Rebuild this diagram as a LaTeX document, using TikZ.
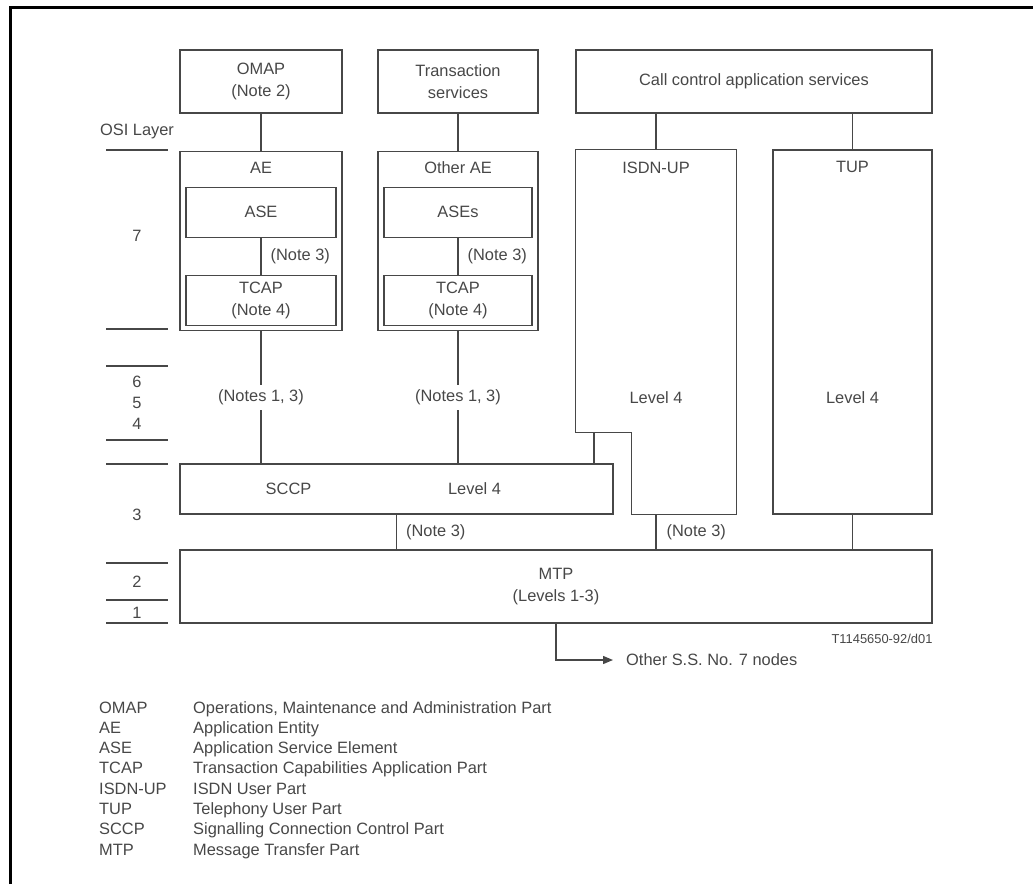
\documentclass[tikz,border=0pt]{standalone}
\usepackage{fontspec}
\setmainfont{Liberation Sans}
\usetikzlibrary{positioning,arrows.meta}
\definecolor{ink}{gray}{0.28}

\begin{document}
\begin{tikzpicture}[
            x=1pt, y=-1pt,
            font=\fontsize{16.4}{22}\selectfont,
            box/.style={rectangle, draw=ink, line width=1.3pt, inner sep=0pt, text=ink, align=center},
            lbl/.style={inner sep=0pt, text=ink},
            note/.style={lbl, fill=white, inner xsep=2pt, inner ysep=5pt},
            wire/.style={draw=ink, line width=1.3pt}
        ]
            \useasboundingbox (0,0) rectangle (1033,884);
            % Frame
            \draw[line width=3pt] (10,884) -- (10,7) -- (1033,7);

            % Services
            \node[box, minimum width=162pt, minimum height=63pt] (omap) at (261,81.5) {OMAP\\(Note 2)};
            \node[box, minimum width=160pt, minimum height=63pt] (trans) at (458,81.5) {Transaction\\services};
            \node[box, minimum width=356pt, minimum height=63pt] (call) at (754,81.5) {Call control application services};

            % Application entities
            \node[box, minimum width=162pt, minimum height=179pt, below=37pt of omap] (ae) {};
            \node[box, minimum width=160pt, minimum height=179pt, below=37pt of trans] (oae) {};
            \node[lbl] (aelbl) at ([yshift=-17pt]ae.north) {AE};
            \node[lbl] (oaelbl) at ([yshift=-17pt]oae.north) {Other AE};
            \node[box, minimum width=150pt, minimum height=50pt, below=36pt of ae.north] (ase) {ASE};
            \node[box, minimum width=150pt, minimum height=50pt, below=37pt of ase] (tcapa) {TCAP\\(Note 4)};
            \node[box, minimum width=148pt, minimum height=50pt, below=36pt of oae.north] (ases) {ASEs};
            \node[box, minimum width=148pt, minimum height=50pt, below=37pt of ases] (tcapb) {TCAP\\(Note 4)};

            % User parts
            \node[minimum width=160pt, minimum height=364pt, inner sep=0pt] (isdn) at (656,332) {};
            \draw[wire, line join=miter] (isdn.north west) -- (isdn.north east) -- (isdn.south east)
                -- ++(-105,0) -- ++(0,-82) -| (isdn.north west) -- cycle;
            \node[box, minimum width=159pt, minimum height=364pt] (tup) at (852.5,332) {};
            \node[lbl] (isdnlbl) at ([yshift=-18pt]isdn.north) {ISDN-UP};
            \node[lbl] (tuplbl) at ([yshift=-18pt]tup.north) {TUP};
            \coordinate (isdnstep) at (594,432);

            % SCCP and MTP
            \node[box, minimum width=433pt, minimum height=50pt] (sccp) at (396.5,489) {};
            \node[lbl] (sccplbl) at ([xshift=-108pt]sccp.center) {SCCP};
            \node[lbl] (sccplvl) at ([xshift=78pt]sccp.center) {Level 4};
            \node[box, minimum width=752pt, minimum height=73pt] (mtp) at (556,586.5) {MTP\\(Levels 1-3)};
            \node[lbl, anchor=east, font=\fontsize{12.9}{15}\selectfont] (tag) at ([yshift=-15pt]mtp.south east) {T1145650-92/d01};
            \node[lbl, anchor=west, inner xsep=13pt] (other) at (613,660) {Other S.S. No. 7 nodes};

            % Connections
            \draw[wire] (omap) -- (ae);
            \draw[wire] (trans) -- (oae);
            \draw[wire] (call.south -| isdn) -- (isdn.north);
            \draw[wire] (call.south -| tup) -- (tup.north);
            \draw[wire] (ase) -- node[lbl, right=9pt] {(Note 3)} (tcapa);
            \draw[wire] (ases) -- node[lbl, right=9pt] {(Note 3)} (tcapb);
            \draw[wire] (ae) -- node[note] (notea) {(Notes 1, 3)} (ae.south |- sccp.north);
            \draw[wire] (oae) -- node[note] (noteb) {(Notes 1, 3)} (oae.south |- sccp.north);
            \draw[wire] (isdnstep) -- (isdnstep |- sccp.north);
            \draw[wire] (sccp) -- node[lbl, right=9pt] {(Note 3)} (sccp.south |- mtp.north);
            \draw[wire] (isdn.south) -- node[lbl, right=10pt] {(Note 3)} (isdn.south |- mtp.north);
            \draw[wire] (tup) -- (tup.south |- mtp.north);
            \draw[wire, -{Triangle[length=10pt, width=8pt]}] (mtp) |- (other.west);
            \node[lbl] (isdnlvl) at (isdn |- notea) {Level 4};
            \node[lbl] (tuplvl) at (tup |- notea) {Level 4};

            % OSI layers
            \foreach \y in {150,329,366,440,464,563,600,623}
                \draw[ink, line width=1.6pt] (106,\y) -- (168,\y);
            \foreach \t/\y [count=\i] in {OSI Layer/131,7/236,6/382,5/403,4/424,3/515,2/582,1/613}
                \node[lbl] (layer\i) at (137,\y) {\t};

            % Legend
            \foreach \ab/\txt [count=\i] in {OMAP/{Operations, Maintenance and Administration Part},
                    AE/Application Entity, ASE/Application Service Element,
                    TCAP/Transaction Capabilities Application Part, ISDN-UP/ISDN User Part,
                    TUP/Telephony User Part, SCCP/Signalling Connection Control Part,
                    MTP/Message Transfer Part} {
                \node[lbl, anchor=base west] (abbr\i) at (99,{692.7+20.3*\i}) {\ab};
                \node[lbl, anchor=base west] (desc\i) at (193,{692.7+20.3*\i}) {\txt};
            }
        \end{tikzpicture}
\end{document}
